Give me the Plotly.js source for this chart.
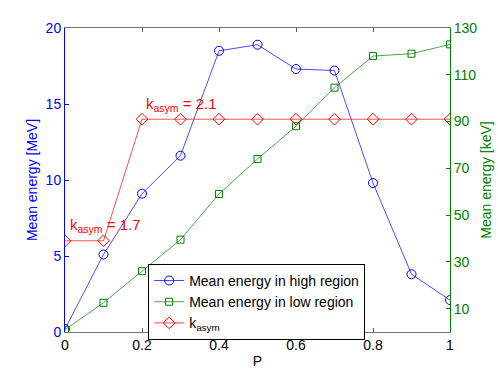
<!DOCTYPE html>
<html>
<head>
<meta charset="utf-8">
<script src="https://cdn.plot.ly/plotly-3.0.1.min.js"></script>
<style>
  body { margin: 0; background: #fff; }
  #chart { width: 498px; height: 374px; }
</style>
</head>
<body>
<div id="chart"></div>
<script>
const pValues = [0, 0.1, 0.2, 0.3, 0.4, 0.5, 0.6, 0.7, 0.8, 0.9, 1]
const highRegionMeV = [0.2, 5.1, 9.1, 11.6, 18.5, 18.9, 17.3, 17.2, 9.8, 3.8, 2.1]
const lowRegionKeV = [1, 12.5, 26, 39.5, 59, 74, 88, 104.5, 118, 119, 123]
const kAsymLevel = [6, 6, 14, 14, 14, 14, 14, 14, 14, 14, 14]
const xTicks = [0, 0.2, 0.4, 0.6, 0.8, 1]
const leftTicks = [0, 5, 10, 15, 20]
const rightTicks = [10, 30, 50, 70, 90, 110, 130]

const blue = '#0000ff'
const green = '#008000'
const red = '#ff0000'
const font = 'Liberation Sans, Arial, sans-serif'

const traces = [
  {
    x: pValues, y: highRegionMeV,
    name: 'Mean energy in high region',
    mode: 'lines+markers',
    line: {color: 'rgba(0,0,255,0.7)', width: 1},
    marker: {symbol: 'circle-open', size: 9, color: blue, line: {width: 1}}
  },
  {
    x: pValues, y: lowRegionKeV, yaxis: 'y2',
    name: 'Mean energy in low region',
    mode: 'lines+markers',
    line: {color: 'rgba(0,128,0,0.7)', width: 1},
    marker: {symbol: 'square-open', size: 7, color: green, line: {width: 1}}
  },
  {
    x: pValues, y: kAsymLevel,
    name: 'k<sub>asym</sub>',
    mode: 'lines+markers',
    line: {color: 'rgba(255,0,0,0.7)', width: 1},
    marker: {symbol: 'diamond-open', size: 9, color: red, line: {width: 1}}
  }
]

const layout = {
  width: 498,
  height: 374,
  margin: {t: 28, b: 42, l: 65, r: 48},
  paper_bgcolor: '#fff',
  plot_bgcolor: '#fff',
  font: {family: font, size: 14, color: '#000'},
  showlegend: true,
  legend: {
    x: 0.216, y: 0.224, xanchor: 'left', yanchor: 'top',
    bgcolor: '#fff', bordercolor: '#000', borderwidth: 1,
    font: {family: font, size: 14},
    tracegroupgap: 0
  },
  xaxis: {
    range: [0, 1],
    tickvals: xTicks,
    ticktext: xTicks.map(String),
    ticks: 'inside', ticklen: 4, tickcolor: '#555',
    tickfont: {size: 14},
    showline: true, linecolor: '#777', linewidth: 1, mirror: 'ticks',
    showgrid: false, zeroline: false,
    title: {text: 'P', font: {size: 14}, standoff: 4}
  },
  yaxis: {
    range: [0, 20],
    tickvals: leftTicks,
    ticks: 'inside', ticklen: 4, tickcolor: blue,
    tickfont: {color: blue, size: 14},
    showline: true, linecolor: blue, linewidth: 1,
    showgrid: false, zeroline: false,
    title: {text: 'Mean energy [MeV]', font: {color: blue, size: 14}, standoff: 4}
  },
  yaxis2: {
    range: [0, 130],
    overlaying: 'y', side: 'right',
    tickvals: rightTicks,
    ticks: 'inside', ticklen: 4, tickcolor: green,
    tickfont: {color: green, size: 14},
    showline: true, linecolor: green, linewidth: 1,
    showgrid: false, zeroline: false,
    title: {text: 'Mean energy [keV]', font: {color: green, size: 14}, standoff: 4}
  },
  annotations: [
    {
      x: 0.2, y: 15.0, xref: 'x', yref: 'y',
      text: 'k<sub>asym</sub> = 2.1',
      xanchor: 'left', yanchor: 'middle', xshift: 2,
      showarrow: false,
      font: {color: red, size: 15}
    },
    {
      x: 0, y: 7.0, xref: 'x', yref: 'y',
      text: 'k<sub>asym</sub> = 1.7',
      xanchor: 'left', yanchor: 'middle', xshift: 3,
      showarrow: false,
      font: {color: red, size: 15}
    }
  ]
}

Plotly.newPlot('chart', traces, layout, {responsive: false, displayModeBar: false})
</script>
</body>
</html>
